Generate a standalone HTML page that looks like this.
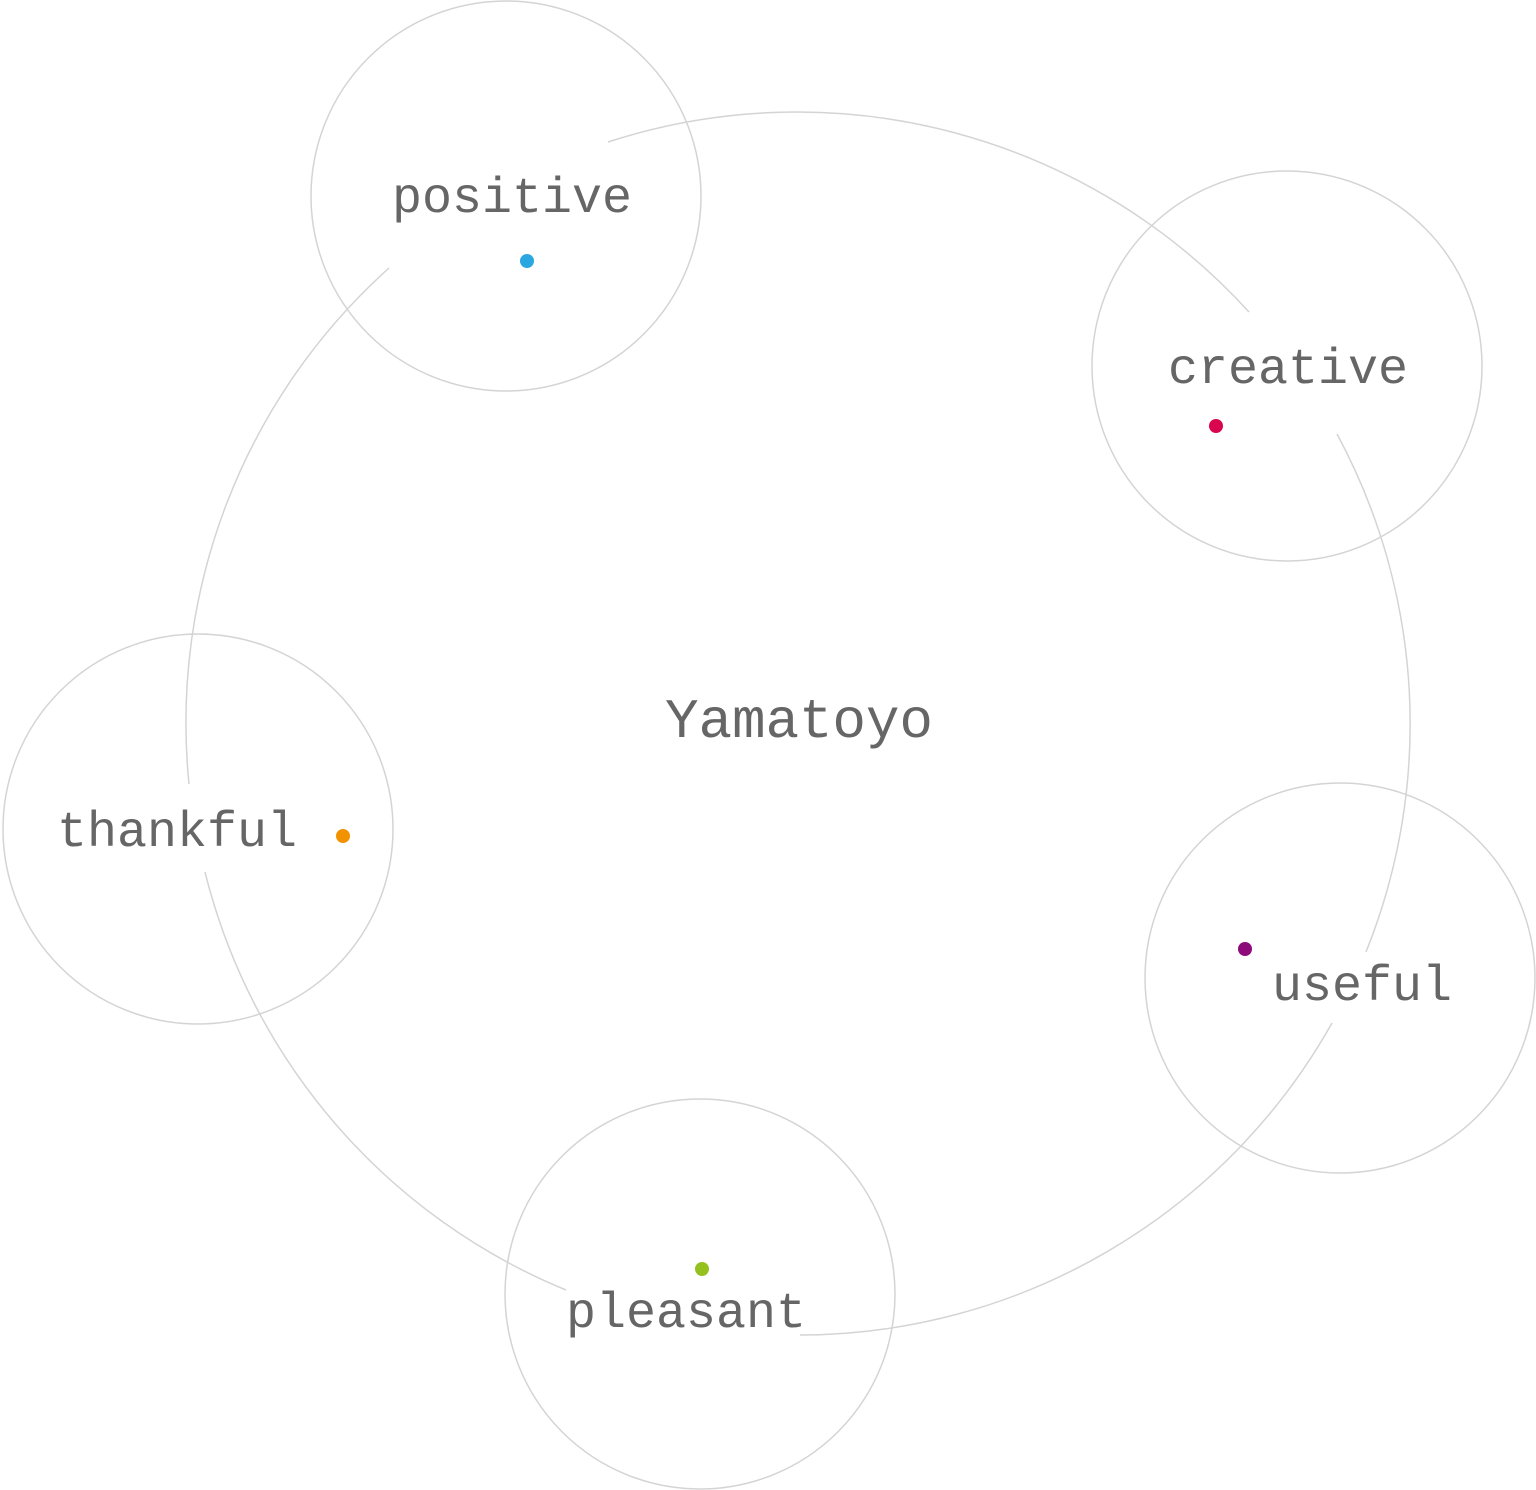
<!DOCTYPE html>
<html><head><meta charset="utf-8"><style>
html,body{margin:0;padding:0;background:#fff;}
svg{display:block;}
text{font-family:"Liberation Mono","DejaVu Sans Mono",monospace;fill:#666;}
</style></head><body>
<svg width="1536" height="1490" viewBox="0 0 1536 1490" xmlns="http://www.w3.org/2000/svg">
<g fill="none" stroke="#d4d4d4" stroke-width="1.5">
<circle cx="506" cy="196" r="195"/>
<circle cx="1287" cy="366" r="195"/>
<circle cx="198" cy="829" r="195"/>
<circle cx="1340" cy="978" r="195"/>
<circle cx="700" cy="1294" r="195"/>
<path d="M608,142 A611,611 0 0 1 1249,312"/>
<path d="M1337,434 A611,611 0 0 1 1366,952"/>
<path d="M1332,1023 A611,611 0 0 1 800,1335"/>
<path d="M566,1290 A611,611 0 0 1 205,872"/>
<path d="M189,784 A611,611 0 0 1 389,268"/>
</g>
<text x="392" y="212" font-size="50" textLength="240">positive</text>
<text x="1168" y="383" font-size="50" textLength="240">creative</text>
<text x="665" y="737" font-size="56" textLength="268">Yamatoyo</text>
<text x="57" y="846" font-size="50" textLength="240">thankful</text>
<text x="1272" y="1000" font-size="50" textLength="180">useful</text>
<text x="566" y="1327" font-size="50" textLength="240">pleasant</text>
<circle cx="527" cy="261" r="7" fill="#2aa6e0"/>
<circle cx="1216" cy="426" r="7" fill="#d9064f"/>
<circle cx="343" cy="836" r="7" fill="#f39200"/>
<circle cx="1245" cy="949" r="7" fill="#8c0a7a"/>
<circle cx="702" cy="1269" r="7" fill="#95c11f"/>
</svg>
</body></html>
